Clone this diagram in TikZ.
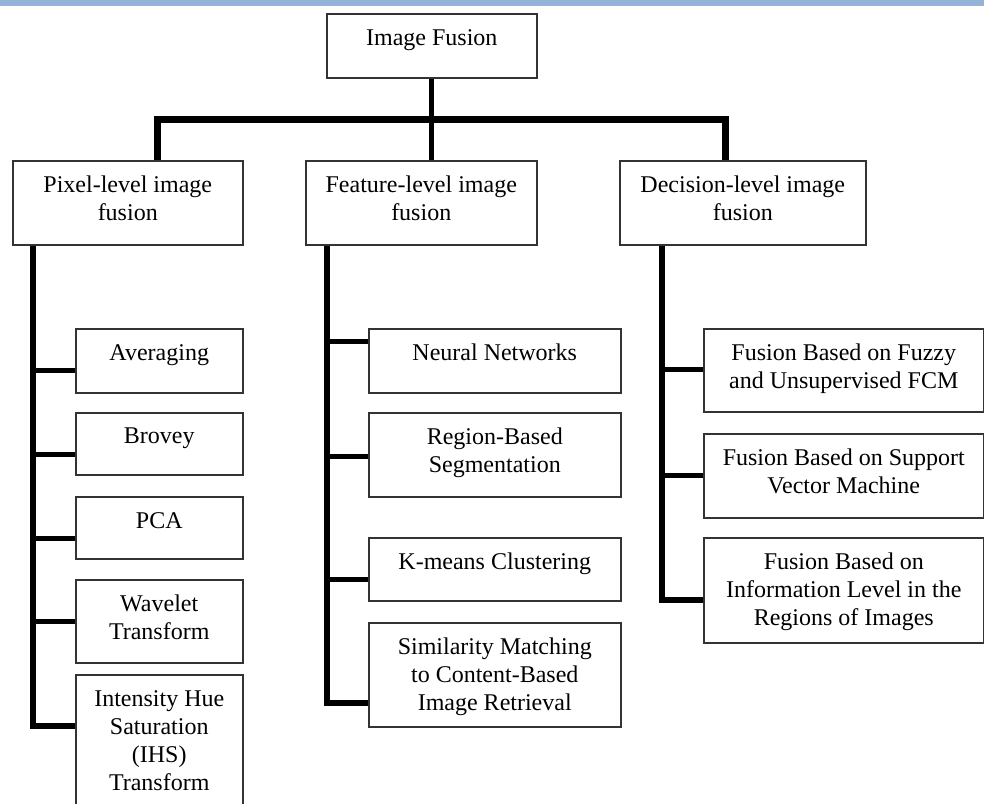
\documentclass[tikz,border=0pt]{standalone}
\usepackage{fontspec}
\setmainfont{Liberation Serif}
\definecolor{topbar}{HTML}{94B3D7}
\definecolor{boxline}{HTML}{333333}
\tikzset{
  box/.style={draw=boxline, line width=1.5pt, fill=white, inner sep=0pt, anchor=north west},
  txt/.style={font=\fontsize{24}{28}\selectfont, align=center, inner sep=0pt, anchor=north},
  bus/.style={line width=7pt, line join=miter},
  rootstem/.style={line width=5pt},
  col/.style={line width=5.5pt, line join=miter},
  br/.style={line width=5pt}
}
\newcommand\lbl[2]{\node[txt] (#1-t) at ([yshift=-16pt]#1.north) {#2};}
\begin{document}
\begin{tikzpicture}[x=1pt,y=-1pt]
\useasboundingbox (0,0) rectangle (984,803);
\clip (0,0) rectangle (984,803);
\fill[topbar] (0,0) rectangle (984,6);

% root and level 1
\node[box, minimum width=210, minimum height=64] (root) at (326,13) {};
\node[box, minimum width=230, minimum height=84] (pix) at (12,160) {};
\node[box, minimum width=231, minimum height=84] (feat) at (305,160) {};
\node[box, minimum width=246, minimum height=84] (dec) at (619,160) {};
\lbl{root}{Image Fusion}
\lbl{pix}{Pixel-level image\\fusion}
\lbl{feat}{Feature-level image\\fusion}
\lbl{dec}{Decision-level image\\fusion}

% pixel children
\node[box, minimum width=167, minimum height=64] (avg) at (75,328) {};
\node[box, minimum width=167, minimum height=62] (brov) at (75,412) {};
\node[box, minimum width=167, minimum height=62] (pca) at (75,496) {};
\node[box, minimum width=167, minimum height=83] (wav) at (75,579) {};
\node[box, minimum width=167, minimum height=150] (ihs) at (75,674) {};
\lbl{avg}{Averaging}
\lbl{brov}{Brovey}
\lbl{pca}{PCA}
\lbl{wav}{Wavelet\\Transform}
\lbl{ihs}{Intensity Hue\\Saturation\\(IHS)\\Transform}

% feature children
\node[box, minimum width=252, minimum height=64] (neur) at (368,328) {};
\node[box, minimum width=252, minimum height=84] (reg) at (368,412) {};
\node[box, minimum width=252, minimum height=63] (kmc) at (368,537) {};
\node[box, minimum width=252, minimum height=104] (sim) at (368,622) {};
\lbl{neur}{Neural Networks}
\lbl{reg}{Region-Based\\Segmentation}
\lbl{kmc}{K-means Clustering}
\lbl{sim}{Similarity Matching\\to Content-Based\\Image Retrieval}

% decision children
\node[box, minimum width=280, minimum height=83] (fuzzy) at (703,328) {};
\node[box, minimum width=280, minimum height=84] (svm) at (703,433) {};
\node[box, minimum width=280, minimum height=105] (info) at (703,537) {};
\lbl{fuzzy}{Fusion Based on Fuzzy\\and Unsupervised FCM}
\lbl{svm}{Fusion Based on Support\\Vector Machine}
\lbl{info}{Fusion Based on\\Information Level in the\\Regions of Images}

% top bus
\coordinate (jL) at (157,119.5);
\coordinate (jR) at (725,119.5);
\draw[rootstem] (root.south) -- (root.south |- feat.north);
\draw[bus] (jL |- pix.north) -- (jL) -- (jR) -- (jR |- dec.north);

% column stems
\coordinate (pxs) at (33,0);
\coordinate (fts) at (327,0);
\coordinate (dcs) at (662,0);
\draw[col] (pxs |- pix.south) -- (pxs |- 0,726) -- (ihs.west |- 0,726);
\draw[br] (pxs |- 0,370) -- (avg.west |- 0,370);
\draw[br] (pxs |- 0,454) -- (brov.west |- 0,454);
\draw[br] (pxs |- 0,538) -- (pca.west |- 0,538);
\draw[br] (pxs |- 0,621) -- (wav.west |- 0,621);

\draw[col] (fts |- feat.south) -- (fts |- 0,703) -- (sim.west |- 0,703);
\draw[br] (fts |- 0,341) -- (neur.west |- 0,341);
\draw[br] (fts |- 0,456) -- (reg.west |- 0,456);
\draw[br] (fts |- 0,579) -- (kmc.west |- 0,579);

\draw[col] (dcs |- dec.south) -- (dcs |- 0,600) -- (info.west |- 0,600);
\draw[br] (dcs |- 0,369) -- (fuzzy.west |- 0,369);
\draw[br] (dcs |- 0,475) -- (svm.west |- 0,475);
\end{tikzpicture}
\end{document}
